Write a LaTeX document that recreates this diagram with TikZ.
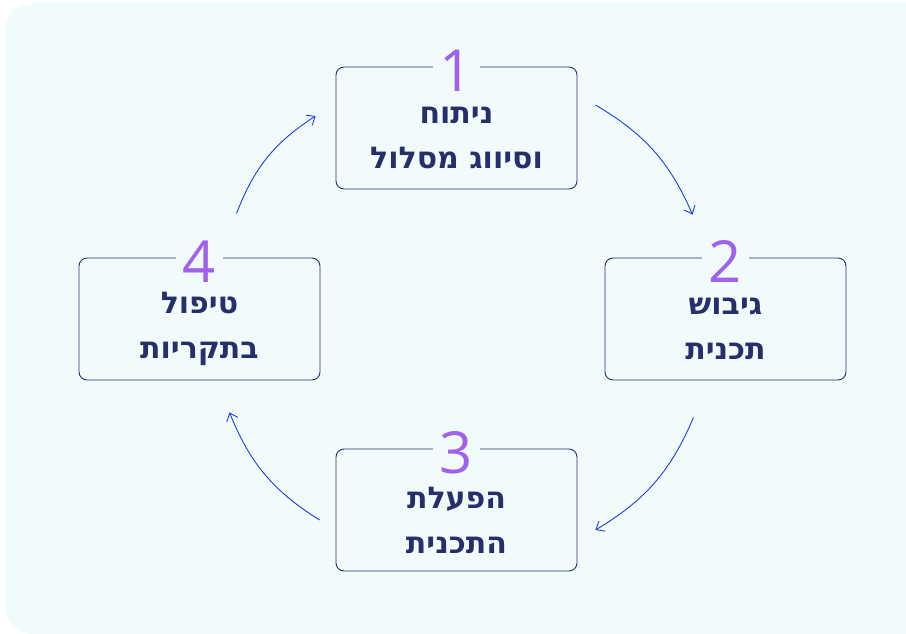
\documentclass[tikz,border=0pt]{standalone}
\usepackage{fontspec}
\setmainfont{DejaVu Sans}
\newfontfamily\numfont{Open Sans}
\usetikzlibrary{arrows.meta}
\TeXXeTstate=1
\newcommand{\heb}[1]{\beginR #1\endR}
\definecolor{bgpale}{HTML}{F1FBFC}
\definecolor{navy}{HTML}{25306A}
\definecolor{lilac}{HTML}{A062EE}
\definecolor{arrblue}{HTML}{1E3BE0}
\tikzset{
  stagebox/.style={draw=navy, line width=0.9pt, rounded corners=8pt, minimum width=241pt, minimum height=122pt},
  stagetext/.style={text=navy, font=\bfseries\fontsize{30}{45}\selectfont, align=center},
  stagenum/.style={fill=bgpale, text=lilac, inner xsep=7pt, inner ysep=0pt, font=\numfont\fontsize{58}{58}\selectfont},
  arr/.style={arrblue, line width=0.9pt, -{Straight Barb[length=7pt,width=12pt]}}
}
\begin{document}
\begin{tikzpicture}[x=1pt,y=-1pt]
\useasboundingbox (0,0) rectangle (906,634);
\fill[bgpale, rounded corners=28pt] (5,3) rectangle (940,634);
% stages
\node[stagebox] (b1) at (456.5,128) {};
\node[stagebox] (b2) at (725.5,319) {};
\node[stagebox] (b3) at (456.5,510) {};
\node[stagebox] (b4) at (199.5,319) {};
\node[stagenum] (n1) at ([yshift=-4pt]b1.north) {1};
\node[stagenum] (n2) at ([yshift=-4pt]b2.north) {2};
\node[stagenum] (n3) at ([yshift=-4pt]b3.north) {3};
\node[stagenum] (n4) at ([yshift=-4pt]b4.north) {4};
\node[stagetext] (t1) at ([yshift=-10pt]b1.center) {\heb{ניתוח}\\\heb{וסיווג מסלול}};
\node[stagetext] (t2) at ([yshift=-10pt]b2.center) {\heb{גיבוש}\\\heb{תכנית}};
\node[stagetext] (t3) at ([yshift=-10pt]b3.center) {\heb{הפעלת}\\\heb{התכנית}};
\node[stagetext] (t4) at ([yshift=-10pt]b4.center) {\heb{טיפול}\\\heb{בתקריות}};
% cycle arrows
\draw[arr] ([xshift=18pt,yshift=23pt]b1.east) to[bend left=18] ([xshift=-33pt,yshift=43pt]b2.north);
\draw[arr] ([xshift=-32pt,yshift=-37pt]b2.south) to[bend left=18] ([xshift=18pt,yshift=-20pt]b3.east);
\draw[arr] ([xshift=-16pt,yshift=-10pt]b3.west) to[bend left=18] ([xshift=30pt,yshift=-32pt]b4.south);
\draw[arr] ([xshift=37pt,yshift=44pt]b4.north) to[bend left=18] ([xshift=-20pt,yshift=12pt]b1.west);
\end{tikzpicture}
\end{document}
